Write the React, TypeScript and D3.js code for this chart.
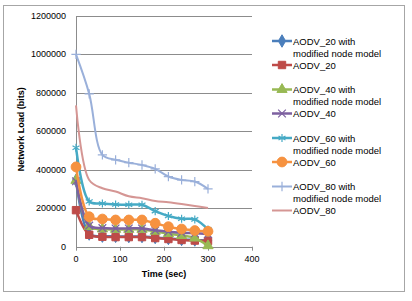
import React, { useEffect, useRef } from 'react';
import * as d3 from 'd3';

// Simulation time (sec) at which network load was sampled
const times = [0, 30, 60, 90, 120, 150, 180, 210, 240, 270, 300];

const aodv20Mod = [345000, 66000, 55000, 54000, 53000, 53000, 48000, 43000, 38000, 35000, 32000];
const aodv20 = [190000, 62000, 52000, 50000, 50000, 50000, 45000, 40000, 35000, 32000, 30000];
const aodv40Mod = [345000, 105000, 92000, 90000, 90000, 90000, 80000, 68000, 58000, 45000, 5000];
const aodv40 = [340000, 110000, 97000, 95000, 95000, 95000, 85000, 78000, 72000, 70000, 66000];
const aodv60Mod = [515000, 235000, 225000, 220000, 218000, 218000, 185000, 160000, 145000, 142000, 90000];
const aodv60 = [415000, 156000, 144000, 139000, 139000, 139000, 122000, 104000, 92000, 84000, 80000];
const aodv80Mod = [1000000, 795000, 478000, 452000, 437000, 425000, 405000, 365000, 347000, 339000, 301000];
const aodv80 = [735000, 347000, 304000, 287000, 262000, 252000, 238000, 231000, 222000, 212000, 201000];

const seriesNames = [
  'AODV_20 with modified node model',
  'AODV_20',
  'AODV_40 with modified node model',
  'AODV_40',
  'AODV_60 with modified node model',
  'AODV_60',
  'AODV_80 with modified node model',
  'AODV_80',
];

const yTicks = [0, 200000, 400000, 600000, 800000, 1000000, 1200000];
const xTicks = [0, 100, 200, 300, 400];

const App = () => {
  const svgRef = useRef<SVGSVGElement>(null);

  useEffect(() => {
    const width = 412;
    const height = 301;
    const font = '"Liberation Sans", Arial, sans-serif';

    const svg = d3.select(svgRef.current);
    svg.selectAll('*').remove();

    const series = [
      { name: seriesNames[0], values: aodv20Mod, color: '#4A7EBB', marker: d3.symbolDiamond, size: 45, stroked: false, width: 2.5 },
      { name: seriesNames[1], values: aodv20, color: '#BE4B48', marker: d3.symbolSquare, size: 55, stroked: false, width: 2.5 },
      { name: seriesNames[2], values: aodv40Mod, color: '#98B954', marker: d3.symbolTriangle, size: 45, stroked: false, width: 2.5 },
      { name: seriesNames[3], values: aodv40, color: '#7D60A0', marker: d3.symbolTimes, size: 40, stroked: true, width: 2.5 },
      { name: seriesNames[4], values: aodv60Mod, color: '#46AAC5', marker: d3.symbolAsterisk, size: 45, stroked: true, width: 2.5 },
      { name: seriesNames[5], values: aodv60, color: '#F69240', marker: d3.symbolCircle, size: 75, stroked: false, width: 2.5 },
      { name: seriesNames[6], values: aodv80Mod, color: '#9AB0DA', marker: d3.symbolPlus, size: 30, stroked: true, width: 2 },
      { name: seriesNames[7], values: aodv80, color: '#D59694', marker: null, size: 0, stroked: false, width: 2 },
    ];

    // Chart frame
    svg.append('rect')
      .attr('x', 3.5).attr('y', 5.5)
      .attr('width', 401).attr('height', 286)
      .attr('fill', '#fff')
      .attr('stroke', '#a6a6a6')
      .attr('stroke-width', 1);

    const plot = { left: 76, right: 252, top: 16, bottom: 246.7 };

    const x = d3.scaleLinear().domain([0, 400]).range([plot.left, plot.right]);
    const y = d3.scaleLinear().domain([0, 1200000]).range([plot.bottom, plot.top]);

    // Horizontal grid lines
    svg.append('g')
      .selectAll('line')
      .data(yTicks)
      .enter()
      .append('line')
      .attr('x1', plot.left)
      .attr('x2', plot.right)
      .attr('y1', d => Math.round(y(d)) + 0.5)
      .attr('y2', d => Math.round(y(d)) + 0.5)
      .style('stroke', '#8c8c8c')
      .style('stroke-width', 1);

    // Y axis line
    svg.append('line')
      .attr('x1', plot.left + 0.5).attr('x2', plot.left + 0.5)
      .attr('y1', plot.top).attr('y2', plot.bottom + 3)
      .style('stroke', '#8c8c8c');

    // X ticks
    svg.append('g')
      .selectAll('line')
      .data(xTicks)
      .enter()
      .append('line')
      .attr('x1', d => Math.round(x(d)) + 0.5)
      .attr('x2', d => Math.round(x(d)) + 0.5)
      .attr('y1', plot.bottom)
      .attr('y2', plot.bottom + 4)
      .style('stroke', '#8c8c8c');

    // Y tick labels
    svg.append('g')
      .selectAll('text')
      .data(yTicks)
      .enter()
      .append('text')
      .attr('x', plot.left - 10)
      .attr('y', d => y(d) + 3)
      .attr('text-anchor', 'end')
      .style('font-family', font)
      .style('font-size', '9px')
      .style('fill', '#000')
      .text(d => String(d));

    // X tick labels
    svg.append('g')
      .selectAll('text')
      .data(xTicks)
      .enter()
      .append('text')
      .attr('x', d => x(d))
      .attr('y', plot.bottom + 15)
      .attr('text-anchor', 'middle')
      .style('font-family', font)
      .style('font-size', '9px')
      .style('fill', '#000')
      .text(d => String(d));

    // Axis titles
    svg.append('text')
      .attr('x', (plot.left + plot.right) / 2)
      .attr('y', 277)
      .attr('text-anchor', 'middle')
      .style('font-family', font)
      .style('font-size', '9px')
      .style('font-weight', 'bold')
      .text('Time (sec)');

    svg.append('text')
      .attr('transform', `translate(24, ${(plot.top + plot.bottom) / 2 - 2}) rotate(-90)`)
      .attr('text-anchor', 'middle')
      .style('font-family', font)
      .style('font-size', '9px')
      .style('font-weight', 'bold')
      .text('Network Load (bits)');

    // Series lines and markers
    const line = d3.line<number>()
      .x((d, i) => x(times[i]))
      .y(d => y(d))
      .curve(d3.curveCatmullRom.alpha(0.5));

    series.forEach(s => {
      const g = svg.append('g');
      g.append('path')
        .datum(s.values)
        .attr('d', line)
        .style('fill', 'none')
        .style('stroke', s.color)
        .style('stroke-width', s.width)
        .style('stroke-linejoin', 'round');

      if (s.marker) {
        const sym = d3.symbol().type(s.marker).size(s.size);
        g.selectAll('path.m')
          .data(s.values)
          .enter()
          .append('path')
          .attr('class', 'm')
          .attr('d', sym)
          .attr('transform', (d, i) => `translate(${x(times[i])}, ${y(d)})`)
          .style('fill', s.stroked ? 'none' : s.color)
          .style('stroke', s.color)
          .style('stroke-width', s.stroked ? 1.2 : 1);
      }
    });

    // Legend
    const legend = svg.append('g');
    const rowY = [41, 65, 89.5, 113.5, 138, 162, 186.5, 210.5];
    series.forEach((s, i) => {
      const ly = rowY[i];
      const row = legend.append('g');
      row.append('line')
        .attr('x1', 272).attr('x2', 292)
        .attr('y1', ly).attr('y2', ly)
        .style('stroke', s.color)
        .style('stroke-width', s.width);
      if (s.marker) {
        row.append('path')
          .attr('d', d3.symbol().type(s.marker).size(s.size)())
          .attr('transform', `translate(282, ${ly})`)
          .style('fill', s.stroked ? 'none' : s.color)
          .style('stroke', s.color)
          .style('stroke-width', s.stroked ? 1.2 : 1);
      }
      const parts = s.name.includes(' with ')
        ? [s.name.replace(' modified node model', ''), 'modified node model']
        : [s.name];
      parts.forEach((p, j) => {
        row.append('text')
          .attr('x', 293)
          .attr('y', ly + 3.5 + j * 12)
          .style('font-family', font)
          .style('font-size', '9.5px')
          .style('fill', '#000')
          .text(p);
      });
    });

    svg.attr('width', width).attr('height', height);
  }, []);

  return (
    <div style={{ position: 'absolute', left: 0, top: 0 }}>
      <svg ref={svgRef} width={412} height={301} style={{ display: 'block' }}></svg>
    </div>
  );
};

export default App;
